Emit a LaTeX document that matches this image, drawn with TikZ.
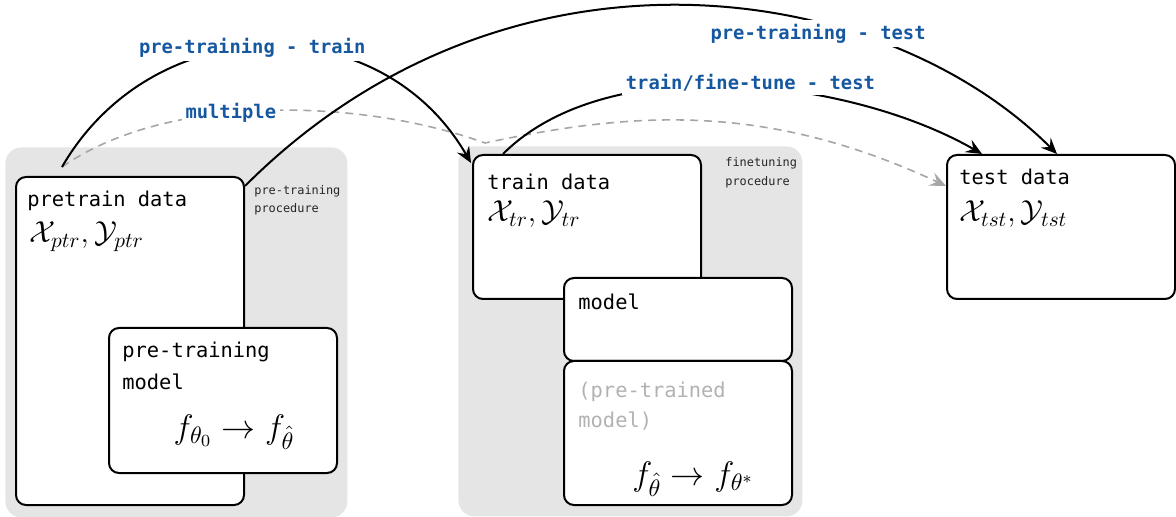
\RequirePackage{fix-cm}
\documentclass[tikz,border=0pt]{standalone}
\usepackage{fontspec}
\setmonofont{DejaVu Sans Mono}
\usepackage{tikz}
\usetikzlibrary{
  arrows.meta,
  positioning
}
\definecolor{labelblue}{RGB}{22,88,160}

\begin{document}
\begin{tikzpicture}[
      x=0.5pt, y=0.5pt,
      procedure/.style={
         rectangle,
         rounded corners=8pt,
         fill=black!10,
         minimum height=185pt,
         anchor=north west
      },
      databox/.style={
         rectangle,
         rounded corners=5pt,
         line width=1pt,
         draw=black,
         fill=white,
         minimum width=114pt,
         anchor=north west
      },
      boxtext/.style={
         font=\fontsize{10.2}{12}\selectfont\ttfamily,
         inner sep=0pt,
         anchor=base west
      },
      mathtext/.style={font=\fontsize{15.2}{18}\selectfont, inner sep=0pt, anchor=base west},
      maptext/.style={font=\fontsize{17}{20}\selectfont, inner sep=0pt, anchor=base},
      proctext/.style={
         font=\fontsize{5.95}{7}\selectfont\ttfamily,
         text=black!85,
         inner sep=0pt,
         anchor=base west
      },
      edgelabel/.style={
         font=\fontsize{9.4}{11}\selectfont\ttfamily\bfseries,
         text=labelblue,
         fill=white,
         inner sep=2pt
      },
      >={Stealth[length=8pt, width=7pt, inset=3pt]},
      link/.style={->, line width=1pt},
      multi/.style={->, dash pattern=on 4pt off 3pt, line width=0.8pt, draw=black!35}
    ]
    \useasboundingbox (0,0) rectangle (1176,-517);

    % procedure backgrounds
    \node (ptrproc) [procedure, minimum width=171pt] at (5,-147) {};
    \node (ftproc) [procedure, minimum width=172pt] at (458,-146) {};

    % boxes
    \node (ptr) [databox, minimum height=164pt] at (15,-176) {};
    \node (ptm) [databox, minimum height=72.5pt] at (108,-327) {};
    \node (train) [databox, minimum height=72pt] at (472,-154) {};
    \node (model) [databox, minimum height=41.5pt] at (563,-277) {};
    \node (ptd) [databox, minimum height=72pt] at (563,-360) {};
    \node (test) [databox, minimum height=72pt] at (946,-154) {};

    % texts
    \node (ptrt) [boxtext] at ([shift={(12,-31)}]ptr.north west) {pretrain data};
    \node (ptrm) [mathtext] at ([shift={(14,-67)}]ptr.north west) {$\mathcal{X}_{ptr},\mathcal{Y}_{ptr}$};
    \node (ptmt1) [boxtext] at ([shift={(14,-31)}]ptm.north west) {pre-training};
    \node (ptmt2) [boxtext] at ([yshift=-16pt]ptmt1.base west) {model};
    \node (ptmm) [maptext] at ([shift={(126,-111)}]ptm.north west) {$f_{\theta_0}\rightarrow f_{\hat{\theta}}$};
    \node (traint) [boxtext] at ([shift={(15,-36)}]train.north west) {train data};
    \node (trainm) [mathtext] at ([shift={(15,-68)}]train.north west) {$\mathcal{X}_{tr},\mathcal{Y}_{tr}$};
    \node (modelt) [boxtext] at ([shift={(15,-33)}]model.north west) {model};
    \node (ptdt1) [boxtext, text=black!30] at ([shift={(15,-38)}]ptd.north west) {(pre-trained};
    \node (ptdt2) [boxtext, text=black!30] at ([yshift=-15pt]ptdt1.base west) {model)};
    \node (ptdm) [maptext] at ([shift={(130,-125)}]ptd.north west) {$f_{\hat{\theta}}\rightarrow f_{\theta^{*}}$};
    \node (testt) [boxtext] at ([shift={(13,-31)}]test.north west) {test data};
    \node (testm) [mathtext] at ([shift={(13,-68)}]test.north west) {$\mathcal{X}_{tst},\mathcal{Y}_{tst}$};
    \node (ptrp1) [proctext] at ([shift={(9,-19)}]ptr.north east) {pre-training};
    \node (ptrp2) [proctext] at ([yshift=-9pt]ptrp1.base west) {procedure};
    \node (ftp1) [proctext] at ([shift={(23,-13)}]train.north east) {finetuning};
    \node (ftp2) [proctext] at ([yshift=-9.5pt]ftp1.base west) {procedure};

    % connector ends
    \coordinate (ptrsrc) at ([shift={(47,9)}]ptr.north west);
    \coordinate (ptrout) at ([shift={(0,-10)}]ptr.north east);
    \coordinate (trainin) at ([shift={(-1,-9)}]train.north west);
    \coordinate (trainout) at ([shift={(31,0)}]train.north west);
    \coordinate (trainpass) at ([shift={(13,11)}]train.north west);
    \coordinate (testin1) at ([shift={(36,0)}]test.north west);
    \coordinate (testin2) at ([shift={(111,0)}]test.north west);
    \coordinate (testin3) at ([shift={(0,-32)}]test.north west);

    % connectors
    \draw[multi] (ptrsrc) .. controls +(35:130) and +(160:130) .. (trainpass)
       node[edgelabel, pos=0.42] (lblmulti) {multiple}
       .. controls +(12:150) and +(155:200) .. (testin3);
    \draw[link] (ptrsrc) .. controls +(60:182) and +(120:182) .. (trainin)
       node[edgelabel, pos=0.47] (lblptrtrain) {pre-training - train};
    \draw[link] (trainout) .. controls +(45:150) and +(150:150) .. (testin1)
       node[edgelabel, pos=0.52, xshift=3pt, yshift=2pt] (lbltraintest) {train/fine-tune - test};
    \draw[link] (ptrout) .. controls +(45:370) and +(135:250) .. (testin2)
       node[edgelabel, pos=0.7, xshift=-17.5pt] (lblptrtest) {pre-training - test};
\end{tikzpicture}
\end{document}
